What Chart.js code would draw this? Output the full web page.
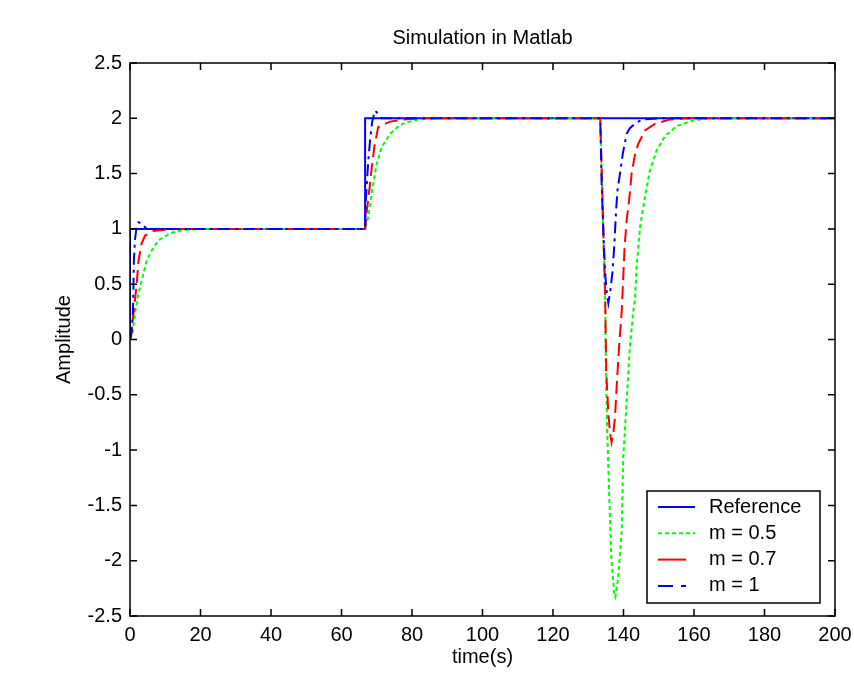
<!DOCTYPE html>
<html>
<head>
<meta charset="utf-8">
<title>Simulation in Matlab</title>
<script src="https://cdn.jsdelivr.net/npm/chart.js@4.4.1/dist/chart.umd.min.js"></script>
<style>
  html, body { margin: 0; padding: 0; background: #fff; }
  #wrap { width: 854px; height: 677px; }
</style>
</head>
<body>
<div id="wrap"><canvas id="simChart" width="854" height="677"></canvas></div>
<script>
// axis ticks
const xTicks = [0, 20, 40, 60, 80, 100, 120, 140, 160, 180, 200];
const yTicks = [-2.5, -2, -1.5, -1, -0.5, 0, 0.5, 1, 1.5, 2, 2.5];

// Reference (step input)
const refTime  = [0, 0, 66.7, 66.7, 200];
const refValue = [0, 1, 1, 2, 2];

// m = 0.5
const m05Time  = [0, 0.7, 1.4, 2.3, 3.3, 4.7, 6.1, 8, 11.3, 15, 20, 66.7, 67.6, 69, 70, 71.4, 73.8, 76.6, 80.3, 85,
                  133.4, 133.8, 134.3, 134.8, 135.0, 135.4, 136.0, 136.6, 137.4, 137.7, 138.5, 139.5, 139.9, 140.9,
                  141.8, 142.8, 143.3, 143.7, 144.7, 146.1, 147.5, 149.4, 151.8, 155.1, 159.8, 164, 200];
const m05Value = [0, 0.05, 0.235, 0.4, 0.53, 0.71, 0.8, 0.895, 0.96, 0.99, 1, 1, 1.11, 1.41, 1.59, 1.74, 1.86, 1.94, 1.98, 2,
                  2, 1.5, 0.9, 0.35, -0.25, -0.85, -1.46, -2.0, -2.31, -2.33, -2.15, -1.73, -1.09, -0.55,
                  -0.07, 0.26, 0.38, 0.65, 1.02, 1.29, 1.53, 1.71, 1.84, 1.93, 1.98, 2, 2];

// m = 0.7
const m07Time  = [0, 0.5, 1.2, 1.9, 2.4, 3.3, 4.3, 6.5, 9, 13, 66.7, 67.1, 68.1, 68.6, 69.3, 70.4, 73.8, 77.6, 82,
                  133.4, 133.8, 134.3, 134.8, 135.1, 135.7, 136.2, 136.6, 137.1, 137.6, 138.1, 138.8, 139.5, 139.8,
                  140.3, 140.9, 141.7, 142.3, 143.3, 144.2, 146.1, 148.9, 153.2, 158, 200];
const m07Value = [0, 0.1, 0.3, 0.5, 0.71, 0.87, 0.94, 0.98, 0.99, 1, 1, 1.14, 1.41, 1.56, 1.74, 1.92, 1.97, 1.99, 2,
                  2, 1.56, 0.96, 0.4, -0.28, -0.67, -0.85, -0.93, -0.85, -0.7, -0.4, -0.04, 0.26, 0.47,
                  0.83, 1.08, 1.29, 1.5, 1.68, 1.77, 1.89, 1.95, 1.99, 2, 2];

// m = 1
const m1Time  = [0, 0.4, 0.8, 0.95, 1.1, 1.4, 1.8, 2.4, 3.3, 4.7, 66.7, 66.9, 67.6, 68.1, 68.7, 69.5, 70.4, 71.4,
                 133.4, 133.5, 133.8, 134.3, 134.8, 135.2, 135.7, 136.3, 136.9, 137.4, 137.9, 138.3, 139, 139.8,
                 140.9, 141.8, 143.5, 145.5, 150, 200];
const m1Value = [0, 0.05, 0.23, 0.42, 0.71, 0.9, 1.0, 1.06, 1.05, 1, 1, 1.26, 1.62, 1.8, 1.97, 2.07, 2.04, 2,
                 2, 1.86, 1.41, 0.96, 0.6, 0.44, 0.33, 0.45, 0.62, 0.86, 1.17, 1.35, 1.5, 1.68,
                 1.86, 1.91, 1.96, 1.99, 2, 2];

const seriesLabels = ['Reference', 'm = 0.5', 'm = 0.7', 'm = 1'];
const chartTitle = 'Simulation in Matlab';

function toPoints(times, values) {
    return times.map((t, i) => ({ x: t, y: values[i] }));
}

const fontFamily = 'Arial, "Liberation Sans", Helvetica, sans-serif';
Chart.defaults.font.family = fontFamily;
Chart.defaults.font.size = 20;
Chart.defaults.color = '#000';

// MATLAB style box, inward ticks, title over the axes and legend
const matlabAxes = {
    id: 'matlabAxes',
    afterDatasetsDraw(chart) {
        const { ctx, chartArea: a, scales: { x, y } } = chart;
        ctx.save();
        ctx.strokeStyle = '#000';
        ctx.lineWidth = 1.5;
        ctx.setLineDash([]);
        ctx.strokeRect(a.left, a.top, a.right - a.left, a.bottom - a.top);

        ctx.beginPath();
        xTicks.forEach(v => {
            const px = x.getPixelForValue(v);
            ctx.moveTo(px, a.bottom); ctx.lineTo(px, a.bottom - 7);
            ctx.moveTo(px, a.top); ctx.lineTo(px, a.top + 7);
        });
        yTicks.forEach(v => {
            const py = y.getPixelForValue(v);
            ctx.moveTo(a.left, py); ctx.lineTo(a.left + 7, py);
            ctx.moveTo(a.right, py); ctx.lineTo(a.right - 7, py);
        });
        ctx.stroke();

        // title centred over the axes
        ctx.font = '20px ' + fontFamily;
        ctx.fillStyle = '#000';
        ctx.textAlign = 'center';
        ctx.textBaseline = 'middle';
        ctx.fillText(chartTitle, (a.left + a.right) / 2, 38);

        // legend box in lower right corner
        const boxW = 173, boxH = 112;
        const bx = a.right - 15 - boxW;
        const by = a.bottom - 13 - boxH;
        ctx.fillStyle = '#fff';
        ctx.fillRect(bx, by, boxW, boxH);
        ctx.strokeRect(bx, by, boxW, boxH);

        ctx.textAlign = 'left';
        chart.data.datasets.forEach((ds, i) => {
            const ry = by + 16 + i * 26.3;
            ctx.strokeStyle = ds.borderColor;
            ctx.lineWidth = 2;
            ctx.setLineDash(ds.legendDash);
            ctx.beginPath();
            ctx.moveTo(bx + 11, ry);
            ctx.lineTo(bx + 48, ry);
            ctx.stroke();
            ctx.fillStyle = '#000';
            ctx.fillText(ds.label, bx + 62, ry);
        });
        ctx.restore();
    }
};

const ctx = document.getElementById('simChart').getContext('2d');
window.simChart = new Chart(ctx, {
    type: 'line',
    data: {
        datasets: [{
            label: seriesLabels[0],
            data: toPoints(refTime, refValue),
            borderColor: '#0000ff',
            borderWidth: 2,
            legendDash: [],
            order: 4
        }, {
            label: seriesLabels[1],
            data: toPoints(m05Time, m05Value),
            borderColor: '#00ff00',
            borderWidth: 2,
            borderDash: [4, 3],
            legendDash: [4, 3],
            order: 3
        }, {
            label: seriesLabels[2],
            data: toPoints(m07Time, m07Value),
            borderColor: '#ff0000',
            borderWidth: 2,
            borderDash: [13, 6],
            legendDash: [28, 20],
            order: 2
        }, {
            label: seriesLabels[3],
            data: toPoints(m1Time, m1Value),
            borderColor: '#0000ff',
            borderWidth: 2,
            borderDash: [12, 5, 3, 5],
            legendDash: [15, 8, 5, 20],
            order: 1
        }]
    },
    options: {
        responsive: false,
        animation: false,
        devicePixelRatio: 1,
        elements: {
            point: { radius: 0 },
            line: { tension: 0, fill: false }
        },
        layout: {
            padding: { left: 0, right: 19, top: 63, bottom: 0 }
        },
        plugins: {
            legend: { display: false },
            tooltip: { enabled: false },
            title: { display: false }
        },
        scales: {
            x: {
                type: 'linear',
                min: 0,
                max: 200,
                grid: { display: false, drawTicks: false },
                border: { display: false },
                ticks: { padding: 7, maxRotation: 0, color: '#000' },
                afterBuildTicks: s => { s.ticks = xTicks.map(v => ({ value: v })); },
                afterFit: s => { s.height = 61; s.paddingLeft = 0; s.paddingRight = 0; },
                title: {
                    display: true,
                    text: 'time(s)',
                    color: '#000',
                    padding: { top: 0, bottom: 8 }
                }
            },
            y: {
                type: 'linear',
                min: -2.5,
                max: 2.5,
                grid: { display: false, drawTicks: false },
                border: { display: false },
                ticks: {
                    padding: 8,
                    color: '#000',
                    callback: value => String(value)
                },
                afterBuildTicks: s => { s.ticks = yTicks.map(v => ({ value: v })); },
                afterFit: s => { s.width = 130; s.paddingTop = 0; s.paddingBottom = 0; },
                title: {
                    display: true,
                    text: 'Amplitude',
                    color: '#000',
                    padding: { top: 52, bottom: 0 }
                }
            }
        }
    },
    plugins: [matlabAxes]
});
</script>
</body>
</html>
